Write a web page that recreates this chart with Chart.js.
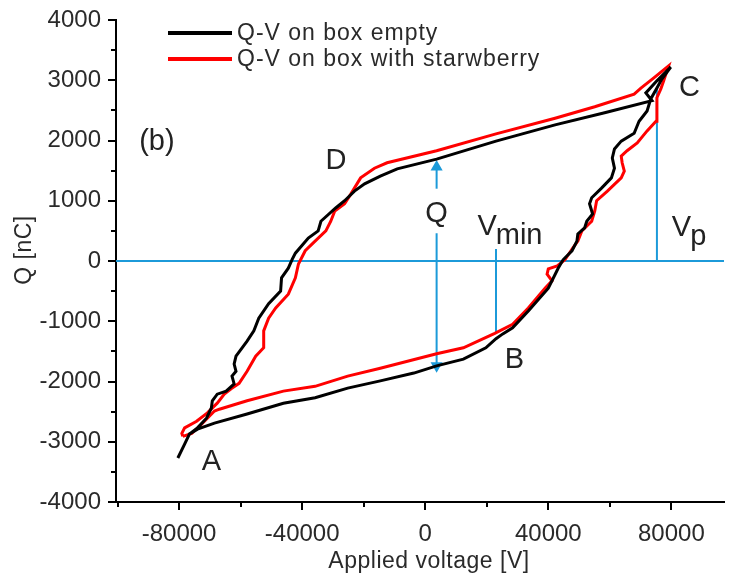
<!DOCTYPE html>
<html><head><meta charset="utf-8">
<script src="https://cdn.jsdelivr.net/npm/chart.js@4.4.1/dist/chart.umd.min.js"></script>
<style>html,body{margin:0;padding:0;background:#fff;}canvas{display:block;}</style>
</head><body>
<canvas id="c" width="731" height="578"></canvas>
<script>
// ---------- data ----------
const seriesNames = ['Q-V on box empty', 'Q-V on box with starwberry'];

// empty box: lower branch A -> C, then upper branch C -> A
const emptyV = [-80400,-78200,-76600,-74000,-68500,-57900,-46100,-35800,-25200,-14600,-3700,3700,12400,19700,23000,25200,28400,33500,40000,43200,44800,47700,49300,49600,51800,52500,54400,53400,54100,57300,60500,61500,60800,61500,63700,67900,69500,72100,73300,75300,76900,79800,
  75300,71700,73700,58300,42200,23000,3700,-9100,-14600,-19700,-23000,-26200,-29100,-33900,-34800,-38000,-42200,-43200,-44500,-46700,-47000,-50900,-54100,-55700,-57900,-61500,-62100,-61500,-62800,-62100,-64700,-67600,-69200,-69500,-71100,-74000,-76600,-78200,-80400];
const emptyQ = [-3270,-3040,-2870,-2790,-2690,-2540,-2360,-2270,-2110,-1990,-1860,-1740,-1630,-1440,-1290,-1210,-1110,-830,-450,-120,20,170,330,450,550,660,780,950,1050,1210,1380,1540,1710,1860,1990,2120,2320,2490,2690,2870,3020,3220,
  2990,2790,2660,2460,2260,1990,1690,1530,1410,1280,1160,1000,880,660,500,380,130,30,-120,-280,-500,-710,-950,-1160,-1330,-1580,-1710,-1830,-1910,-2040,-2160,-2210,-2320,-2440,-2610,-2770,-2870,-3040,-3270];

// box with strawberry
const berryV = [-78800,-75900,-72700,-68500,-66900,-57900,-46100,-35800,-25200,-14600,3700,12400,22600,28400,33500,39000,41200,39600,40000,42900,45400,48000,49600,50900,54100,55100,55700,59200,63700,64700,64000,63700,65600,68900,72100,75000,75300,75300,76600,77500,79100,
  74300,70100,67900,55100,42200,23000,3700,-12400,-16500,-21000,-24200,-26200,-29400,-30700,-32300,-35800,-39000,-41200,-42200,-44500,-48600,-50900,-52500,-52500,-55100,-57900,-60500,-63100,-65300,-67600,-70800,-74300,-78200,-79100,-78800];
const berryQ = [-2910,-2860,-2710,-2490,-2460,-2320,-2160,-2080,-1910,-1780,-1540,-1440,-1200,-1050,-780,-450,-330,-220,-130,-80,20,220,330,500,660,830,1000,1160,1380,1490,1630,1740,1830,1960,2160,2320,2440,2710,2860,2990,3240,
  3040,2870,2770,2560,2370,2110,1830,1630,1540,1380,1110,950,830,660,500,330,170,-50,-280,-550,-780,-950,-1160,-1440,-1580,-1830,-2030,-2120,-2210,-2360,-2520,-2660,-2770,-2860,-2910];

// axis ticks
const xMajorTicks = [-80000, -40000, 0, 40000, 80000];
const xMinorTicks = [-100000, -60000, -20000, 20000, 60000];
const yMajorTicks = [-4000, -3000, -2000, -1000, 0, 1000, 2000, 3000, 4000];
const yMinorTicks = [-3500, -2500, -1500, -500, 500, 1500, 2500, 3500];

// blue construction lines
const zeroLineV = [-100500, 97100];
const zeroLineQ = [0, 0];
const qArrowV = 3700;
const qArrowUpQ = [1200, 1560];
const qArrowDownQ = [460, -1740];
const vminV = 23000;
const vminQ = [200, -1200];
const vpV = 75300;
const vpQ = [0, 2870];

// text labels placed in data coordinates
const pointLabels = [
  {text: '(b)', v: -87200, q: 1975},
  {text: 'D', v: -29000, q: 1660},
  {text: 'Q', v: 3700, q: 780},
  {text: 'A', v: -69500, q: -3330},
  {text: 'B', v: 29000, q: -1640},
  {text: 'C', v: 85900, q: 2870},
  {text: 'V', sub: 'min', v: 20100, q: 560},
  {text: 'V', sub: 'p', v: 83300, q: 550}
];

// ---------- chart ----------
const FONT = '"Liberation Sans", Arial, sans-serif';
const BLUE = '#1c9ad9';
const TXT = '#2a2a2a';
const pts = (xs, ys) => xs.map((x, i) => ({x: x, y: ys[i]}));
const vert = (v, qs) => qs.map(q => ({x: v, y: q}));

const tickMarks = {
  id: 'tickMarks',
  afterDraw(chart) {
    const ctx = chart.ctx, xs = chart.scales.x, ys = chart.scales.y;
    ctx.save();
    ctx.strokeStyle = '#000';
    ctx.lineWidth = 2;
    const xb = chart.chartArea.bottom, yl = chart.chartArea.left;
    const drawX = (vals, len) => vals.forEach(v => {
      const p = Math.round(xs.getPixelForValue(v));
      ctx.beginPath(); ctx.moveTo(p, xb); ctx.lineTo(p, xb + len); ctx.stroke();
    });
    const drawY = (vals, len) => vals.forEach(v => {
      const p = Math.round(ys.getPixelForValue(v));
      ctx.beginPath(); ctx.moveTo(yl, p); ctx.lineTo(yl - len, p); ctx.stroke();
    });
    drawX(xMajorTicks, 8); drawX(xMinorTicks, 5);
    drawY(yMajorTicks, 8); drawY(yMinorTicks, 5);
    ctx.restore();
  }
};

const textLayer = {
  id: 'textLayer',
  afterDraw(chart) {
    const ctx = chart.ctx, xs = chart.scales.x, ys = chart.scales.y;
    ctx.save();
    // legend
    const legendColors = ['#000000', '#ff0000'];
    seriesNames.forEach((name, i) => {
      const y = 33 + i * 26;
      ctx.strokeStyle = legendColors[i];
      ctx.lineWidth = 4;
      ctx.beginPath(); ctx.moveTo(168, y); ctx.lineTo(232, y); ctx.stroke();
      ctx.fillStyle = TXT;
      ctx.font = '23px ' + FONT;
      ctx.letterSpacing = '1px';
      ctx.textAlign = 'left'; ctx.textBaseline = 'middle';
      ctx.fillText(name, 237, y + 1);
    });
    // axis titles
    ctx.letterSpacing = '0.5px';
    ctx.fillStyle = TXT;
    ctx.font = '23px ' + FONT;
    ctx.textAlign = 'center'; ctx.textBaseline = 'middle';
    ctx.fillText('Applied voltage [V]', 429, 562);
    ctx.save();
    ctx.translate(25, 250);
    ctx.rotate(-Math.PI / 2);
    ctx.fillText('Q [nC]', 0, 0);
    ctx.restore();
    ctx.letterSpacing = '0px';
    // point labels
    ctx.font = '29px ' + FONT;
    ctx.fillStyle = '#222';
    pointLabels.forEach(l => {
      const px = xs.getPixelForValue(l.v), py = ys.getPixelForValue(l.q);
      ctx.textAlign = 'center'; ctx.textBaseline = 'middle';
      ctx.fillText(l.text, px, py);
      if (l.sub) {
        const w = ctx.measureText(l.text).width;
        ctx.textAlign = 'left';
        ctx.fillText(l.sub, px + w / 2 - 1, py + 9);
      }
    });
    ctx.restore();
  }
};

new Chart(document.getElementById('c'), {
  type: 'scatter',
  data: {
    datasets: [
      {label: seriesNames[0], data: pts(emptyV, emptyQ), showLine: true, borderColor: '#000', borderWidth: 3, pointRadius: 0, tension: 0, order: 0},
      {label: seriesNames[1], data: pts(berryV, berryQ), showLine: true, borderColor: '#ff0000', borderWidth: 3, pointRadius: 0, tension: 0, order: 1},
      {label: 'zero', data: pts(zeroLineV, zeroLineQ), showLine: true, borderColor: BLUE, borderWidth: 2, pointRadius: 0, order: 2},
      {label: 'Q up', data: vert(qArrowV, qArrowUpQ), showLine: true, borderColor: BLUE, backgroundColor: BLUE, borderWidth: 2,
        pointStyle: 'triangle', pointRadius: [0, 5], pointRotation: 0, order: 2},
      {label: 'Q down', data: vert(qArrowV, qArrowDownQ), showLine: true, borderColor: BLUE, backgroundColor: BLUE, borderWidth: 2,
        pointStyle: 'triangle', pointRadius: [0, 5], pointRotation: 180, order: 2},
      {label: 'Vmin', data: vert(vminV, vminQ), showLine: true, borderColor: BLUE, borderWidth: 2, pointRadius: 0, order: 2},
      {label: 'Vp', data: vert(vpV, vpQ), showLine: true, borderColor: BLUE, borderWidth: 2, pointRadius: 0, order: 2}
    ]
  },
  options: {
    responsive: false,
    devicePixelRatio: 1,
    animation: false,
    events: [],
    layout: {padding: {top: 20, right: 0, left: 0, bottom: 0}},
    plugins: {legend: {display: false}, tooltip: {enabled: false}, title: {display: false}},
    scales: {
      x: {
        type: 'linear', position: 'bottom', min: zeroLineV[0], max: zeroLineV[1],
        afterBuildTicks: s => { s.ticks = xMajorTicks.map(v => ({value: v})); },
        afterFit: s => { s.height = 76; s.paddingLeft = 0; s.paddingRight = 0; },
        grid: {display: false, drawTicks: false},
        border: {display: true, color: '#000', width: 2},
        ticks: {padding: 18, color: TXT, font: {family: FONT, size: 24}, maxRotation: 0, autoSkip: false,
          callback: v => String(v)}
      },
      y: {
        type: 'linear', position: 'left', min: -4000, max: 4000,
        afterBuildTicks: s => { s.ticks = yMajorTicks.map(v => ({value: v})); },
        afterFit: s => { s.width = 116; s.paddingTop = 0; s.paddingBottom = 0; },
        grid: {display: false, drawTicks: false},
        border: {display: true, color: '#000', width: 2},
        ticks: {padding: 15, color: TXT, font: {family: FONT, size: 24}, autoSkip: false,
          callback: v => String(v)}
      }
    }
  },
  plugins: [tickMarks, textLayer]
});
</script>
</body></html>
